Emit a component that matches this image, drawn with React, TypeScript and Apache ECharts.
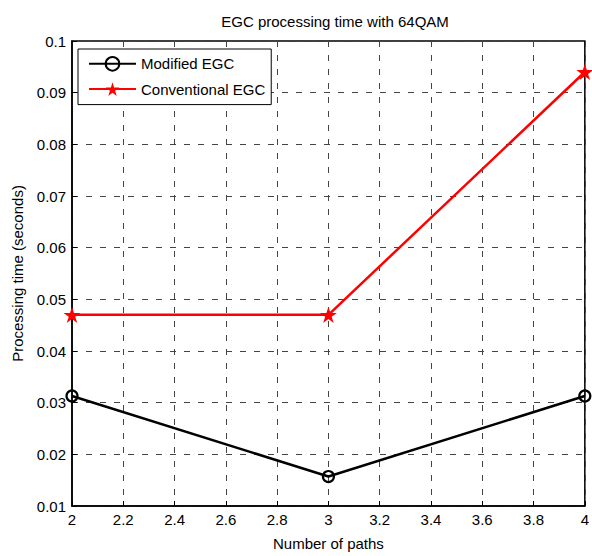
import React, { useEffect, useRef } from "react";
import * as echarts from "echarts";

const paths = [2, 3, 4];
const modifiedEGC = [0.0313, 0.0157, 0.0313];
const conventionalEGC = [0.047, 0.047, 0.094];
const seriesNames = ["Modified EGC", "Conventional EGC"];

const STAR =
  "path://M0,-100 L22.45,-30.9 L95.1,-30.9 L36.3,11.8 L58.8,80.9 L0,38.2 L-58.8,80.9 L-36.3,11.8 L-95.1,-30.9 L-22.45,-30.9 Z";

const FONT = "'Liberation Sans', Arial, sans-serif";

export default function App() {
  const ref = useRef<HTMLDivElement>(null);
  useEffect(() => {
    if (!ref.current) return;
    const chart = echarts.init(ref.current, null, { renderer: "svg" });
    const grid = { color: "#444", type: [6, 8] as any, width: 1 };
    chart.setOption({
      animation: false,
      backgroundColor: "#fff",
      textStyle: { fontFamily: FONT, color: "#000" },
      title: {
        text: "EGC processing time with 64QAM",
        left: 330,
        top: 9,
        textAlign: "center",
        textStyle: { fontFamily: FONT, fontSize: 15, fontWeight: "normal", color: "#000" },
      },
      grid: {
        left: 72,
        right: 4,
        top: 41,
        bottom: 47,
        show: true,
        borderColor: "#000",
        borderWidth: 1.5,
        backgroundColor: "transparent",
      },
      legend: {
        orient: "vertical",
        left: 78,
        top: 49,
        padding: [7, 6, 8, 10],
        itemWidth: 47,
        itemHeight: 17,
        itemGap: 10,
        backgroundColor: "#fff",
        borderColor: "#000",
        borderWidth: 1,
        borderRadius: 0,
        textStyle: { fontFamily: FONT, fontSize: 15, color: "#000" },
        data: seriesNames,
      },
      xAxis: {
        type: "value",
        min: 2,
        max: 4,
        interval: 0.2,
        name: "Number of paths",
        nameLocation: "middle",
        nameGap: 30,
        nameTextStyle: { fontFamily: FONT, fontSize: 15, color: "#000" },
        axisLine: { show: true, lineStyle: { color: "#000", width: 1.5 } },
        axisTick: { show: true, inside: true, length: 5, lineStyle: { color: "#000" } },
        axisLabel: {
          fontFamily: FONT,
          fontSize: 15,
          color: "#000",
          margin: 6,
          formatter: (v: number) => String(+v.toFixed(1)),
        },
        splitLine: { show: true, lineStyle: grid },
      },
      yAxis: {
        type: "value",
        min: 0.01,
        max: 0.1,
        interval: 0.01,
        name: "Processing time (seconds)",
        nameLocation: "middle",
        nameGap: 47,
        nameTextStyle: { fontFamily: FONT, fontSize: 15, color: "#000" },
        axisLine: { show: true, lineStyle: { color: "#000", width: 1.5 } },
        axisTick: { show: true, inside: true, length: 5, lineStyle: { color: "#000" } },
        axisLabel: {
          fontFamily: FONT,
          fontSize: 15,
          color: "#000",
          margin: 6,
          formatter: (v: number) => String(+v.toFixed(2)),
        },
        splitLine: { show: true, lineStyle: grid },
      },
      series: [
        {
          name: seriesNames[0],
          type: "line",
          data: paths.map((p, i) => [p, modifiedEGC[i]]),
          symbol: "circle",
          symbolSize: 11,
          lineStyle: { color: "#000", width: 2.5 },
          itemStyle: { color: "rgba(255,255,255,0)", borderColor: "#000", borderWidth: 2.2 },
          emphasis: { disabled: true },
          z: 3,
        },
        {
          name: seriesNames[1],
          type: "line",
          data: paths.map((p, i) => [p, conventionalEGC[i]]),
          symbol: STAR,
          symbolSize: 17,
          symbolKeepAspect: true,
          lineStyle: { color: "#f00", width: 2.5 },
          itemStyle: { color: "#f00" },
          emphasis: { disabled: true },
          z: 4,
        },
      ],
    });
    return () => chart.dispose();
  }, []);
  return (
    <div
      ref={ref}
      style={{ position: "fixed", left: 0, top: 0, width: 592, height: 556 }}
    />
  );
}
